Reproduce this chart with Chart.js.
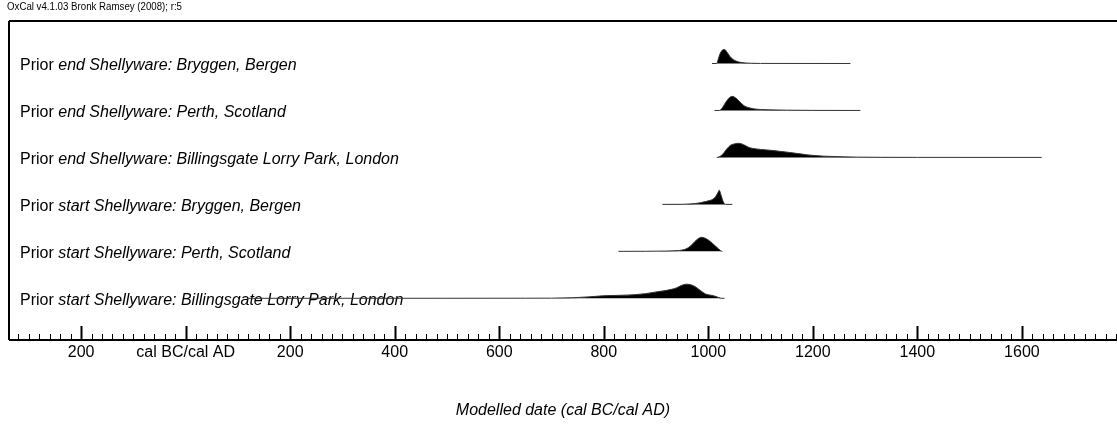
<!DOCTYPE html>
<html>
<head>
<meta charset="utf-8">
<script src="https://cdn.jsdelivr.net/npm/chart.js@4"></script>
<style>
  html, body { margin: 0; padding: 0; background: #fff; }
  canvas { display: block; }
</style>
</head>
<body>
<canvas id="oxcal" width="1117" height="430"></canvas>
<script>
// row captions, top to bottom ("Prior " upright, rest italic)
const rowPrefix = "Prior ";
const rowNames = [
  "end Shellyware: Bryggen, Bergen",
  "end Shellyware: Perth, Scotland",
  "end Shellyware: Billingsgate Lorry Park, London",
  "start Shellyware: Bryggen, Bergen",
  "start Shellyware: Perth, Scotland",
  "start Shellyware: Billingsgate Lorry Park, London"
];

// posterior densities (year AD, relative probability)
const endBryggenYears = [1007, 1016, 1019, 1022, 1026, 1031, 1036, 1041, 1047, 1054, 1062, 1070, 1083, 1100, 1272];
const endBryggenProb  = [0, 0, 0.3, 0.65, 0.92, 1.0, 0.8, 0.52, 0.3, 0.16, 0.08, 0.04, 0.015, 0.005, 0];

const endPerthYears = [1012, 1021, 1027, 1032, 1039, 1046, 1052, 1058, 1064, 1070, 1078, 1086, 1100, 1115, 1150, 1200, 1291];
const endPerthProb  = [0, 0, 0.2, 0.5, 0.85, 1.0, 0.9, 0.7, 0.48, 0.3, 0.19, 0.12, 0.07, 0.045, 0.02, 0.006, 0];

const endBillingsYears = [1016, 1020, 1027, 1035, 1042, 1050, 1057, 1064, 1070, 1077, 1085, 1100, 1124, 1140, 1156, 1172, 1188, 1204, 1220, 1252, 1284, 1330, 1400, 1638];
const endBillingsProb  = [0, 0.03, 0.2, 0.58, 0.85, 0.96, 1.0, 0.96, 0.86, 0.72, 0.64, 0.57, 0.49, 0.42, 0.35, 0.27, 0.19, 0.13, 0.09, 0.05, 0.02, 0.008, 0.003, 0];

const startBryggenYears = [912, 950, 965, 975, 985, 995, 1003, 1009, 1014, 1018, 1021, 1024, 1027, 1030, 1033, 1046];
const startBryggenProb  = [0, 0.005, 0.03, 0.06, 0.12, 0.2, 0.28, 0.37, 0.55, 0.8, 1.0, 0.7, 0.35, 0.08, 0, 0];

const startPerthYears = [828, 880, 920, 940, 950, 959, 966, 973, 980, 987, 994, 1000, 1007, 1013, 1019, 1024, 1027];
const startPerthProb  = [0, 0.005, 0.02, 0.05, 0.09, 0.2, 0.38, 0.65, 0.88, 1.0, 0.93, 0.8, 0.6, 0.4, 0.2, 0.03, 0];

const startBillingsYears = [120, 500, 650, 700, 740, 770, 800, 830, 860, 880, 900, 915, 930, 940, 948, 957, 966, 975, 985, 995, 1005, 1013, 1020, 1026, 1031];
const startBillingsProb  = [0, 0.002, 0.006, 0.01, 0.04, 0.1, 0.18, 0.21, 0.26, 0.33, 0.45, 0.53, 0.64, 0.75, 0.9, 1.0, 0.97, 0.82, 0.55, 0.3, 0.22, 0.15, 0.05, 0, 0];

// axis: major ticks and their captions (BC years negative)
const majorTicks = [-200, 0, 200, 400, 600, 800, 1000, 1200, 1400, 1600];
const tickLabels = ["200", "cal BC/cal AD", "200", "400", "600", "800", "1000", "1200", "1400", "1600"];
const minorStep = 20;
const axisTitle = "Modelled date (cal BC/cal AD)";
const headerText = "OxCal v4.1.03 Bronk Ramsey (2008); r:5";

const rows = [
  [endBryggenYears, endBryggenProb],
  [endPerthYears, endPerthProb],
  [endBillingsYears, endBillingsProb],
  [startBryggenYears, startBryggenProb],
  [startPerthYears, startPerthProb],
  [startBillingsYears, startBillingsProb]
];

const PEAK = 0.3; // height of a distribution in row units
const FONT = "'Liberation Sans', Arial, sans-serif";

const datasets = rows.map(([years, prob], i) => {
  const base = rows.length - 1 - i;
  return {
    label: rowNames[i],
    data: years.map((x, k) => ({ x, y: base + prob[k] * PEAK })),
    fill: { value: base },
    backgroundColor: "#000",
    borderColor: "#333",
    borderWidth: 1,
    pointRadius: 0,
    cubicInterpolationMode: "monotone"
  };
});

const oxcalDecor = {
  id: "oxcalDecor",
  beforeDatasetsDraw(chart) {
    const { ctx, scales: { y } } = chart;
    ctx.save();
    ctx.fillStyle = "#000";
    ctx.textBaseline = "alphabetic";
    rowNames.forEach((name, i) => {
      const py = y.getPixelForValue(rows.length - 1 - i) + 6.5;
      ctx.font = "16px " + FONT;
      ctx.fillText(rowPrefix, 20, py);
      const w = ctx.measureText(rowPrefix).width;
      ctx.font = "italic 16px " + FONT;
      ctx.fillText(name, 20 + w, py);
    });
    ctx.restore();
  },
  afterDraw(chart) {
    const { ctx, chartArea: a, scales: { x } } = chart;
    ctx.save();
    ctx.strokeStyle = "#000";
    ctx.fillStyle = "#000";
    // frame: top, left, axis line
    ctx.lineWidth = 2;
    ctx.beginPath();
    ctx.moveTo(a.left, a.top); ctx.lineTo(a.right, a.top);
    ctx.moveTo(a.left, a.top); ctx.lineTo(a.left, a.bottom);
    ctx.moveTo(a.left, a.bottom); ctx.lineTo(a.right, a.bottom);
    ctx.stroke();
    // ticks
    const start = Math.ceil(x.min / minorStep) * minorStep;
    for (let v = start; v <= x.max; v += minorStep) {
      const px = Math.round(x.getPixelForValue(v)) + 0.5;
      const major = majorTicks.includes(v);
      ctx.lineWidth = major ? 2 : 1;
      ctx.beginPath();
      ctx.moveTo(px, a.bottom);
      ctx.lineTo(px, a.bottom - (major ? 14 : 6));
      ctx.stroke();
    }
    // tick captions and axis title
    ctx.textAlign = "center";
    ctx.textBaseline = "middle";
    ctx.font = "16px " + FONT;
    majorTicks.forEach((v, i) => ctx.fillText(tickLabels[i], x.getPixelForValue(v), a.bottom + 13));
    ctx.font = "italic 16px " + FONT;
    ctx.fillText(axisTitle, (a.left + a.right) / 2, a.bottom + 71);
    // header
    ctx.textAlign = "left";
    ctx.textBaseline = "alphabetic";
    ctx.font = "10px " + FONT;
    const hw = ctx.measureText(headerText).width;
    ctx.translate(7, 10);
    ctx.scale(175 / hw, 1);
    ctx.fillText(headerText, 0, 0);
    ctx.restore();
  }
};

new Chart(document.getElementById("oxcal"), {
  type: "line",
  data: { datasets },
  plugins: [oxcalDecor],
  options: {
    responsive: false,
    animation: false,
    layout: { padding: { left: 9, right: 0, top: 21, bottom: 90 } },
    plugins: { legend: { display: false }, tooltip: { enabled: false } },
    scales: {
      x: { type: "linear", display: false, min: -338, max: 1782 },
      y: { type: "linear", display: false, min: -0.888, max: 5.905 }
    }
  }
});
</script>
</body>
</html>
